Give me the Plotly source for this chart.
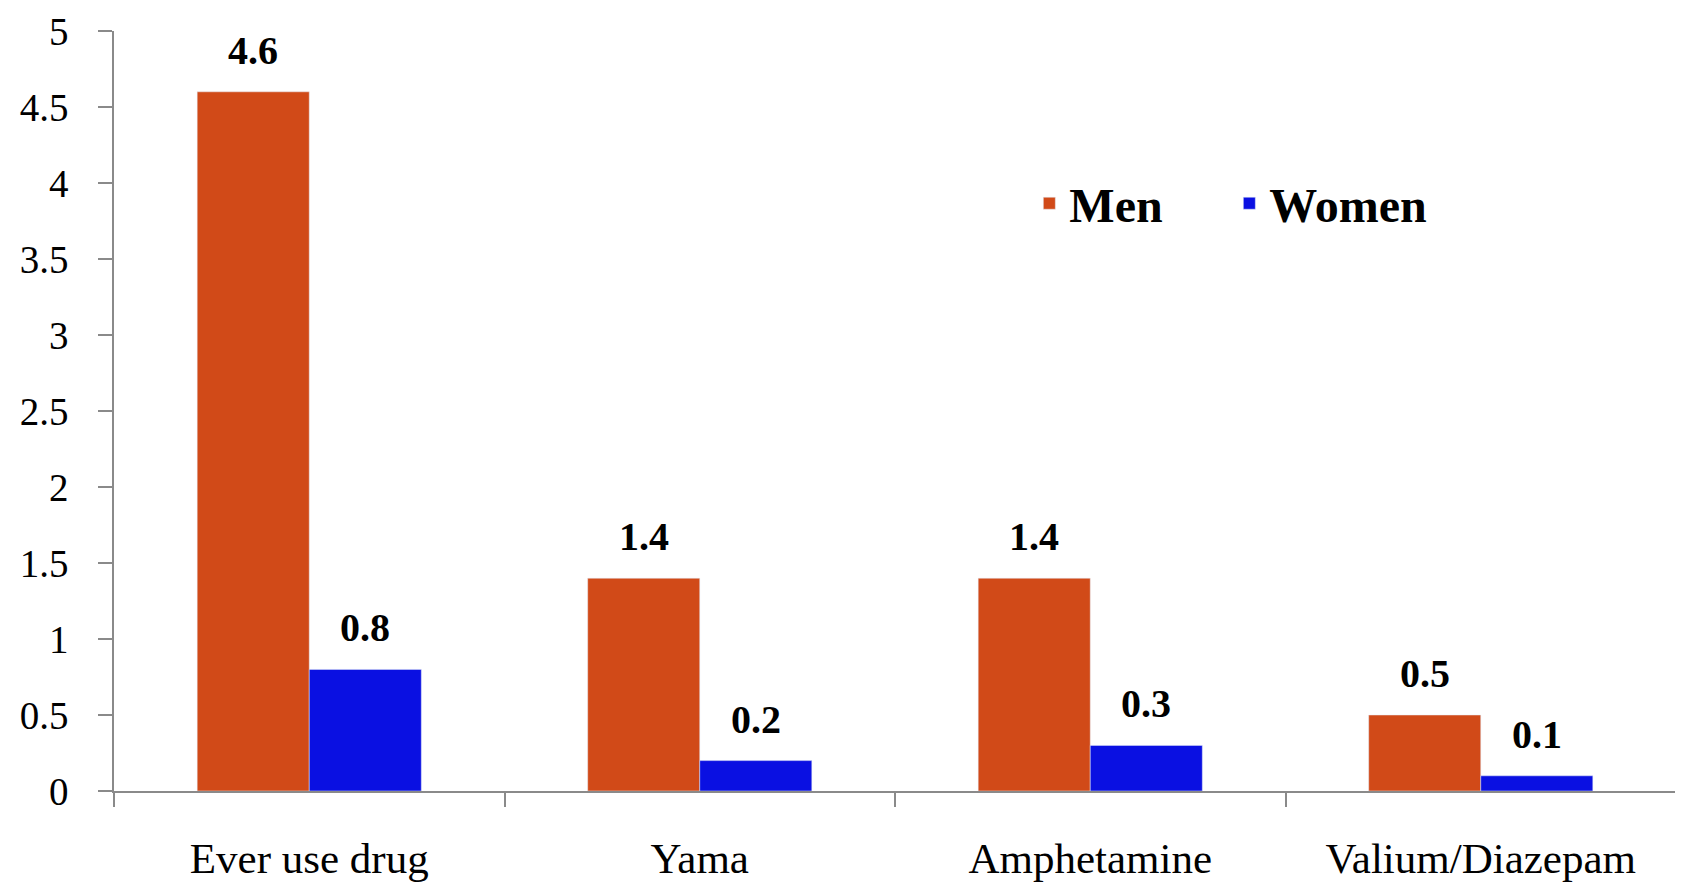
import plotly.graph_objects as go

categories = ["Ever use drug", "Yama", "Amphetamine", "Valium/Diazepam"]
men = [4.6, 1.4, 1.4, 0.5]
women = [0.8, 0.2, 0.3, 0.1]
y_ticks = [0, 0.5, 1, 1.5, 2, 2.5, 3, 3.5, 4, 4.5, 5]

serif = "Liberation Serif, Times New Roman, serif"
axis_col = "#8a8a8a"
men_col = "#D14A18"
women_col = "#0A10E2"

fig = go.Figure()
fig.add_trace(go.Bar(x=categories, y=men, name="Men", marker=dict(color=men_col)))
fig.add_trace(go.Bar(x=categories, y=women, name="Women", marker=dict(color=women_col)))

# value labels sit well above the bars, so use annotations instead of bar text
for series, shift in [(men, -56), (women, 56)]:
    for cat, val in zip(categories, series):
        fig.add_annotation(
            x=cat, y=val, xref="x", yref="y",
            text=f"{val:.1f}", showarrow=False,
            xshift=shift, yshift=17, yanchor="bottom",
            font=dict(family=serif, size=40, color="black", weight="bold"),
        )

fig.update_layout(
    width=1683, height=885,
    margin=dict(l=106, r=15, t=23, b=102),
    paper_bgcolor="white", plot_bgcolor="white",
    barmode="group", bargap=0.426, bargroupgap=0,
    font=dict(family=serif, color="black"),
    legend=dict(
        orientation="h", x=0.586, y=0.773, xanchor="left", yanchor="middle",
        font=dict(family=serif, size=48, color="black", weight="bold"),
        entrywidth=155, entrywidthmode="pixels",
        bgcolor="rgba(0,0,0,0)",
    ),
    xaxis=dict(
        showline=True, linecolor=axis_col, linewidth=1.5,
        ticks="outside", tickson="boundaries", ticklen=14, tickcolor=axis_col, tickwidth=1.5,
        tickfont=dict(family=serif, size=43, color="black"),
        ticklabelstandoff=29, automargin=False,
        showgrid=False,
    ),
    yaxis=dict(
        range=[0, 5], tickvals=y_ticks,
        showline=True, linecolor=axis_col, linewidth=1.5,
        ticks="outside", ticklen=14, tickcolor=axis_col, tickwidth=1.5,
        tickfont=dict(family=serif, size=39, color="black"),
        ticklabelstandoff=22, ticklabeloverflow="allow", automargin=False,
        showgrid=False, zeroline=False,
    ),
)

fig.write_html("out.html")
